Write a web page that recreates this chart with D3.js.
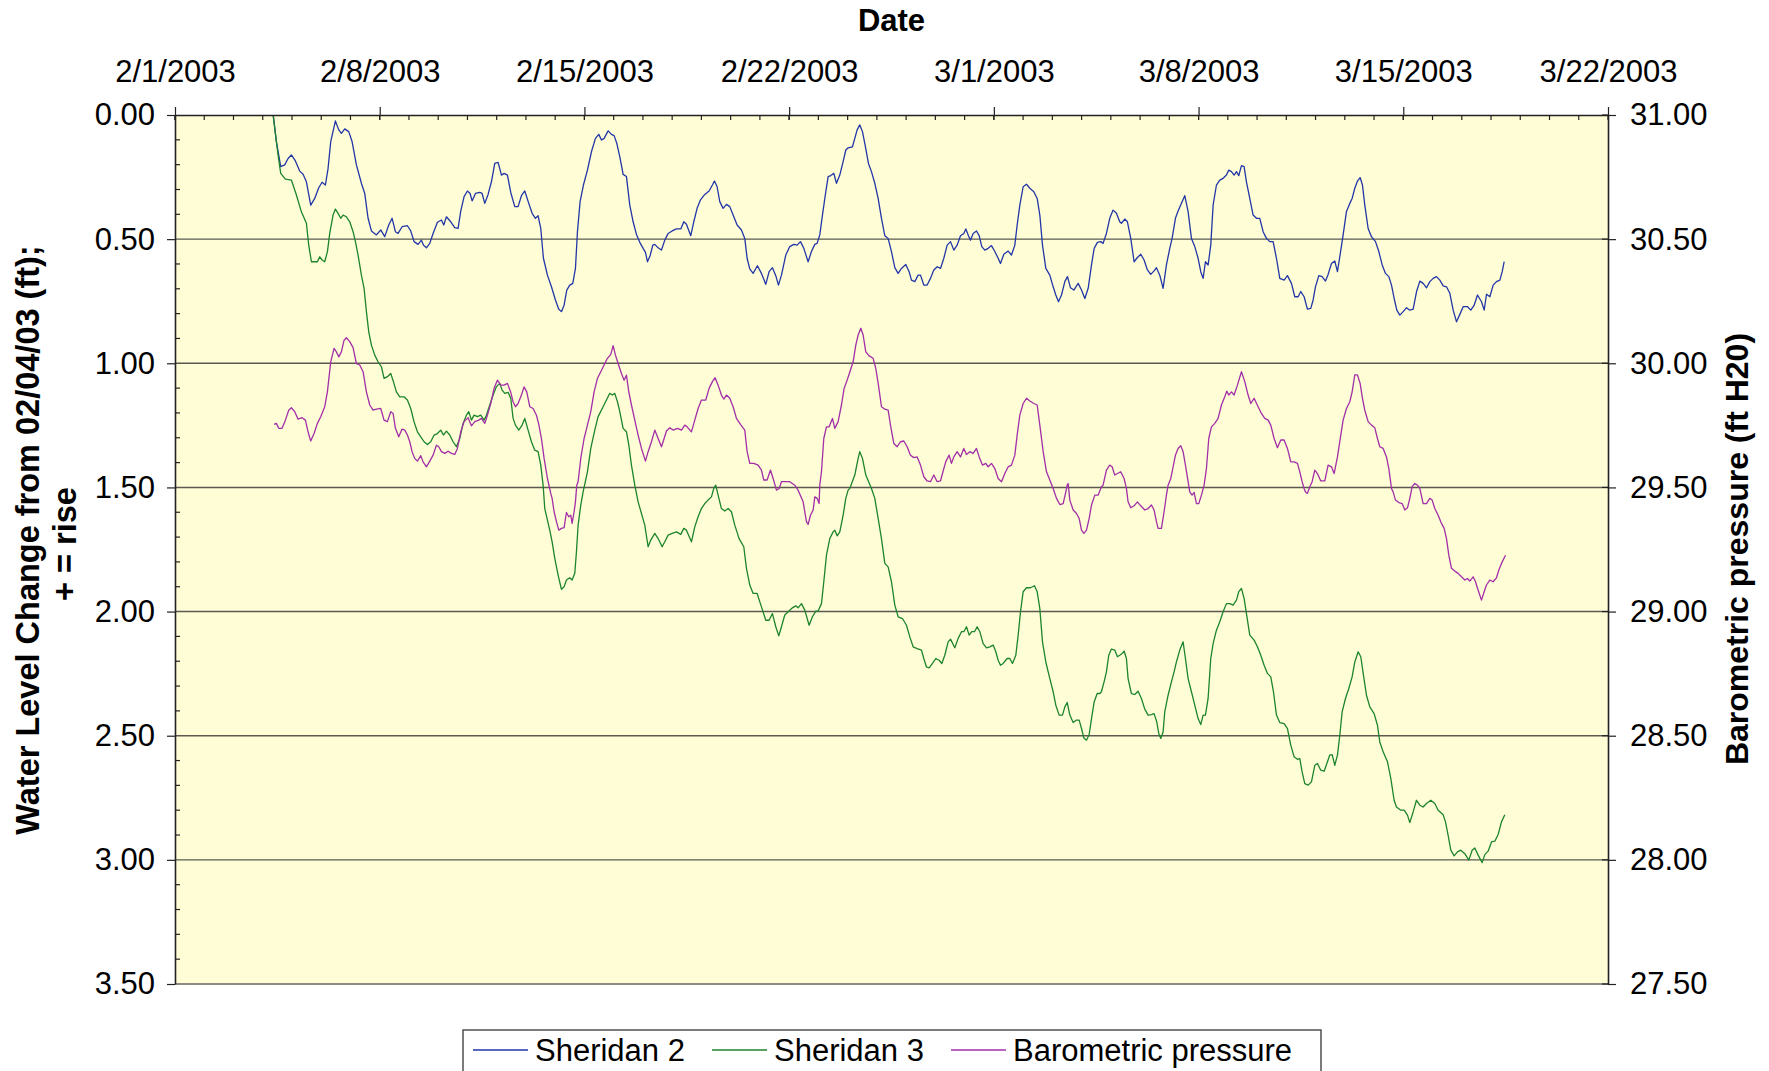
<!DOCTYPE html>
<html><head><meta charset="utf-8">
<script src="https://cdn.jsdelivr.net/npm/d3@7"></script>
<style>
body{margin:0;background:#fff;}
svg{display:block;font-family:"Liberation Sans",Arial,Helvetica,sans-serif;}
</style>
</head><body>
<svg id="chart" width="1769" height="1071"></svg>
<script>
// ---- Data (days since 2/1/2003 00:00) ----
const weekTicks = ["2003-02-01","2003-02-08","2003-02-15","2003-02-22","2003-03-01","2003-03-08","2003-03-15","2003-03-22"];
const leftTicks = [0,0.5,1,1.5,2,2.5,3,3.5];
const rightTicks = [31,30.5,30,29.5,29,28.5,28,27.5];
const seriesNames = ["Sheridan 2","Sheridan 3","Barometric pressure"];

const s2Day = [3.36,3.467,3.615,3.752,3.866,3.98,4.117,4.265,4.379,4.493,4.641,4.778,4.915,5.029,5.143,5.234,5.325,5.485,5.599,5.69,5.804,5.941,6.055,6.203,6.374,6.488,6.602,6.716,6.887,7.035,7.172,7.309,7.423,7.537,7.628,7.765,7.947,8.061,8.175,8.312,8.426,8.494,8.597,8.711,8.825,8.973,9.11,9.19,9.281,9.429,9.566,9.68,9.771,9.885,9.999,10.09,10.159,10.273,10.421,10.501,10.592,10.706,10.82,10.934,11.048,11.162,11.253,11.367,11.481,11.618,11.732,11.846,11.96,12.097,12.211,12.325,12.416,12.507,12.598,12.735,12.872,13.009,13.123,13.214,13.305,13.396,13.499,13.602,13.693,13.761,13.852,13.966,14.103,14.24,14.377,14.491,14.582,14.673,14.81,14.924,15.015,15.106,15.209,15.323,15.437,15.551,15.665,15.779,15.893,16.007,16.087,16.155,16.246,16.338,16.406,16.52,16.634,16.748,16.862,16.999,17.147,17.295,17.397,17.488,17.636,17.739,17.853,17.967,18.115,18.263,18.377,18.446,18.537,18.628,18.742,18.856,18.97,19.084,19.221,19.369,19.483,19.563,19.654,19.768,19.916,20.053,20.201,20.315,20.429,20.543,20.634,20.737,20.885,21.022,21.159,21.273,21.387,21.501,21.649,21.763,21.877,21.957,22.048,22.139,22.253,22.333,22.424,22.527,22.618,22.732,22.846,22.937,23.017,23.165,23.245,23.325,23.416,23.507,23.598,23.712,23.815,23.929,24.043,24.157,24.271,24.385,24.499,24.613,24.727,24.841,24.989,25.103,25.183,25.297,25.411,25.491,25.605,25.719,25.833,25.947,26.061,26.175,26.289,26.403,26.517,26.631,26.745,26.859,26.973,27.041,27.132,27.201,27.292,27.406,27.497,27.588,27.691,27.805,27.919,28.033,28.147,28.227,28.341,28.489,28.603,28.717,28.797,28.888,29.002,29.116,29.23,29.367,29.481,29.572,29.663,29.777,29.914,30.028,30.119,30.21,30.313,30.427,30.518,30.621,30.735,30.883,30.997,31.111,31.225,31.339,31.43,31.541,31.655,31.735,31.849,31.963,32.077,32.191,32.305,32.362,32.476,32.567,32.681,32.795,32.909,33.023,33.137,33.251,33.365,33.479,33.559,33.673,33.787,33.901,34.015,34.095,34.209,34.3,34.437,34.528,34.642,34.756,34.87,34.984,35.075,35.155,35.235,35.326,35.417,35.497,35.611,35.725,35.839,35.953,36.033,36.124,36.215,36.295,36.375,36.466,36.557,36.637,36.751,36.865,36.979,37.093,37.207,37.321,37.435,37.549,37.663,37.777,37.925,38.039,38.176,38.29,38.404,38.495,38.609,38.723,38.837,38.917,38.997,39.111,39.225,39.339,39.43,39.544,39.658,39.749,39.829,39.943,40.057,40.171,40.251,40.342,40.433,40.524,40.604,40.684,40.798,40.912,41.05,41.164,41.278,41.392,41.506,41.597,41.688,41.779,41.882,41.996,42.11,42.224,42.338,42.452,42.566,42.68,42.794,42.908,43.022,43.136,43.25,43.364,43.478,43.592,43.706,43.82,43.934,44.048,44.196,44.31,44.424,44.538,44.675,44.766,44.846,44.96,45.074,45.188,45.302,45.382,45.45];
const s2Val = [0,0.107,0.208,0.201,0.175,0.161,0.185,0.226,0.239,0.269,0.363,0.336,0.293,0.271,0.282,0.215,0.107,0.024,0.06,0.074,0.056,0.067,0.107,0.201,0.275,0.316,0.416,0.467,0.483,0.463,0.49,0.443,0.416,0.47,0.477,0.45,0.446,0.467,0.51,0.521,0.504,0.524,0.535,0.517,0.477,0.432,0.423,0.443,0.41,0.43,0.454,0.457,0.387,0.329,0.306,0.316,0.346,0.316,0.312,0.316,0.356,0.32,0.269,0.195,0.191,0.242,0.235,0.242,0.312,0.369,0.369,0.325,0.306,0.356,0.396,0.416,0.406,0.457,0.577,0.645,0.692,0.745,0.782,0.792,0.766,0.705,0.685,0.678,0.618,0.47,0.349,0.282,0.222,0.148,0.094,0.078,0.101,0.094,0.064,0.078,0.083,0.114,0.168,0.239,0.248,0.363,0.43,0.481,0.513,0.537,0.553,0.591,0.567,0.524,0.521,0.535,0.544,0.504,0.477,0.467,0.459,0.459,0.43,0.44,0.486,0.43,0.376,0.342,0.32,0.306,0.282,0.266,0.289,0.349,0.376,0.36,0.369,0.403,0.443,0.463,0.497,0.577,0.62,0.638,0.607,0.638,0.682,0.631,0.615,0.647,0.685,0.645,0.564,0.53,0.521,0.524,0.51,0.537,0.591,0.55,0.521,0.517,0.483,0.403,0.309,0.248,0.244,0.235,0.275,0.242,0.188,0.141,0.132,0.128,0.094,0.06,0.04,0.067,0.121,0.195,0.228,0.275,0.336,0.416,0.486,0.497,0.55,0.615,0.638,0.618,0.602,0.631,0.665,0.671,0.645,0.645,0.685,0.685,0.658,0.624,0.611,0.618,0.577,0.524,0.51,0.544,0.524,0.486,0.477,0.459,0.486,0.504,0.477,0.467,0.486,0.53,0.544,0.537,0.526,0.55,0.577,0.598,0.561,0.548,0.564,0.524,0.443,0.363,0.289,0.279,0.295,0.309,0.336,0.403,0.524,0.618,0.645,0.692,0.725,0.752,0.725,0.671,0.651,0.696,0.705,0.678,0.705,0.739,0.698,0.604,0.537,0.513,0.51,0.517,0.477,0.416,0.383,0.396,0.43,0.436,0.419,0.43,0.497,0.591,0.574,0.561,0.584,0.624,0.642,0.628,0.615,0.645,0.698,0.604,0.537,0.497,0.416,0.387,0.349,0.325,0.389,0.497,0.53,0.577,0.631,0.658,0.591,0.604,0.524,0.363,0.282,0.262,0.255,0.242,0.222,0.228,0.242,0.228,0.244,0.204,0.208,0.269,0.336,0.403,0.416,0.416,0.47,0.497,0.51,0.51,0.577,0.658,0.665,0.647,0.678,0.732,0.732,0.711,0.732,0.782,0.779,0.745,0.692,0.647,0.651,0.669,0.642,0.598,0.588,0.631,0.571,0.483,0.389,0.356,0.336,0.295,0.266,0.252,0.282,0.363,0.457,0.49,0.51,0.55,0.604,0.638,0.651,0.685,0.739,0.786,0.806,0.792,0.776,0.786,0.782,0.712,0.669,0.678,0.696,0.671,0.658,0.651,0.665,0.688,0.692,0.718,0.786,0.833,0.803,0.772,0.772,0.786,0.766,0.725,0.752,0.786,0.722,0.732,0.685,0.671,0.665,0.631,0.591,0.567];

const s3Day = [3.353,3.524,3.615,3.775,3.98,4.151,4.322,4.493,4.573,4.664,4.869,4.949,5.029,5.12,5.211,5.291,5.405,5.485,5.576,5.667,5.747,5.861,5.975,6.089,6.169,6.26,6.374,6.465,6.545,6.625,6.716,6.83,6.944,7.058,7.149,7.263,7.377,7.468,7.571,7.685,7.833,7.947,8.061,8.175,8.289,8.403,8.517,8.631,8.745,8.859,8.973,9.087,9.178,9.281,9.395,9.509,9.623,9.737,9.851,9.965,10.045,10.136,10.227,10.341,10.455,10.569,10.649,10.763,10.877,10.991,11.105,11.185,11.276,11.39,11.481,11.561,11.641,11.755,11.869,11.96,12.074,12.188,12.302,12.416,12.507,12.587,12.644,12.735,12.815,12.895,12.986,13.1,13.214,13.305,13.385,13.499,13.579,13.67,13.727,13.784,13.875,13.955,14.103,14.217,14.354,14.468,14.639,14.753,14.867,14.958,15.038,15.129,15.209,15.323,15.437,15.517,15.608,15.722,15.836,15.95,16.064,16.178,16.269,16.406,16.52,16.657,16.748,16.862,16.999,17.147,17.295,17.397,17.488,17.659,17.773,17.887,18.001,18.115,18.229,18.343,18.423,18.491,18.571,18.685,18.799,18.913,19.027,19.141,19.289,19.449,19.54,19.654,19.768,19.905,20.053,20.201,20.315,20.429,20.543,20.646,20.737,20.851,20.965,21.113,21.227,21.307,21.421,21.535,21.683,21.797,21.911,21.991,22.105,22.185,22.276,22.39,22.504,22.561,22.641,22.732,22.846,22.937,23.017,23.074,23.245,23.359,23.416,23.507,23.621,23.815,23.929,24.043,24.157,24.271,24.385,24.499,24.613,24.727,24.875,25.012,25.126,25.24,25.377,25.525,25.605,25.696,25.787,25.901,26.015,26.129,26.22,26.323,26.437,26.517,26.665,26.779,26.893,26.973,27.064,27.155,27.246,27.338,27.429,27.52,27.634,27.748,27.862,27.976,28.067,28.147,28.227,28.318,28.455,28.546,28.637,28.751,28.831,28.911,29.002,29.116,29.253,29.39,29.481,29.572,29.663,29.777,29.914,30.028,30.119,30.233,30.347,30.427,30.507,30.598,30.712,30.826,30.917,30.997,31.077,31.168,31.259,31.339,31.43,31.533,31.624,31.678,31.769,31.849,31.929,32.02,32.134,32.225,32.305,32.385,32.453,32.533,32.59,32.704,32.818,32.932,33.046,33.16,33.274,33.388,33.479,33.57,33.639,33.707,33.787,33.844,33.958,34.072,34.163,34.243,34.357,34.471,34.551,34.642,34.756,34.87,34.984,35.075,35.155,35.235,35.326,35.417,35.497,35.611,35.725,35.839,35.953,36.067,36.181,36.295,36.375,36.466,36.557,36.637,36.751,36.899,37.013,37.127,37.241,37.355,37.469,37.561,37.663,37.777,37.925,38.039,38.153,38.267,38.381,38.461,38.541,38.632,38.746,38.86,38.974,39.065,39.179,39.293,39.407,39.487,39.567,39.658,39.749,39.829,39.909,40.023,40.137,40.251,40.342,40.456,40.547,40.638,40.741,40.855,41.003,41.117,41.197,41.311,41.459,41.573,41.687,41.767,41.915,42.029,42.143,42.223,42.337,42.451,42.565,42.679,42.793,42.941,43.078,43.192,43.363,43.443,43.534,43.625,43.739,43.853,43.967,44.104,44.241,44.355,44.446,44.56,44.697,44.788,44.902,45.016,45.13,45.244,45.358,45.472];
const s3Val = [0,0.161,0.235,0.258,0.262,0.322,0.39,0.436,0.524,0.591,0.591,0.571,0.584,0.591,0.551,0.477,0.403,0.379,0.396,0.416,0.403,0.41,0.43,0.47,0.51,0.564,0.645,0.698,0.792,0.873,0.927,0.967,0.994,1.014,1.061,1.054,1.041,1.074,1.115,1.135,1.135,1.148,1.182,1.236,1.276,1.296,1.316,1.327,1.316,1.289,1.283,1.269,1.289,1.273,1.289,1.316,1.336,1.303,1.242,1.209,1.195,1.229,1.209,1.215,1.209,1.229,1.209,1.168,1.128,1.094,1.081,1.108,1.121,1.117,1.141,1.222,1.249,1.269,1.249,1.222,1.269,1.316,1.35,1.356,1.41,1.491,1.585,1.632,1.672,1.719,1.786,1.853,1.91,1.9,1.873,1.864,1.873,1.846,1.759,1.652,1.571,1.518,1.437,1.343,1.269,1.215,1.175,1.148,1.121,1.128,1.121,1.155,1.195,1.262,1.276,1.329,1.41,1.491,1.558,1.605,1.652,1.739,1.712,1.685,1.706,1.739,1.719,1.692,1.685,1.679,1.689,1.665,1.672,1.719,1.659,1.618,1.585,1.565,1.551,1.538,1.504,1.491,1.531,1.585,1.595,1.585,1.598,1.652,1.706,1.739,1.826,1.893,1.927,1.927,1.981,2.035,2.035,2.008,2.061,2.098,2.061,2.014,2.001,1.985,1.977,1.985,1.968,1.994,2.055,2.021,1.998,1.998,1.968,1.88,1.773,1.706,1.679,1.672,1.695,1.679,1.612,1.544,1.511,1.504,1.45,1.383,1.356,1.383,1.45,1.504,1.544,1.625,1.706,1.806,1.82,1.88,1.974,2.021,2.028,2.055,2.102,2.142,2.149,2.155,2.189,2.223,2.227,2.209,2.189,2.196,2.209,2.176,2.122,2.111,2.146,2.108,2.081,2.081,2.061,2.095,2.081,2.081,2.061,2.081,2.129,2.146,2.142,2.135,2.162,2.196,2.216,2.209,2.189,2.189,2.209,2.176,2.095,2.001,1.92,1.904,1.904,1.896,1.92,1.988,2.122,2.203,2.27,2.323,2.377,2.417,2.417,2.384,2.366,2.417,2.447,2.437,2.437,2.471,2.509,2.518,2.495,2.431,2.364,2.33,2.33,2.323,2.283,2.243,2.176,2.151,2.155,2.182,2.176,2.169,2.159,2.189,2.27,2.33,2.334,2.321,2.35,2.393,2.417,2.415,2.411,2.444,2.491,2.511,2.485,2.404,2.337,2.283,2.243,2.203,2.155,2.122,2.189,2.27,2.323,2.377,2.431,2.455,2.417,2.417,2.35,2.189,2.129,2.075,2.041,2.001,1.968,1.968,1.974,1.954,1.92,1.907,1.947,2.008,2.095,2.115,2.142,2.176,2.216,2.249,2.263,2.323,2.417,2.447,2.451,2.471,2.538,2.585,2.595,2.592,2.646,2.693,2.699,2.686,2.619,2.612,2.639,2.643,2.605,2.578,2.576,2.619,2.578,2.498,2.404,2.35,2.31,2.263,2.203,2.162,2.182,2.256,2.337,2.384,2.411,2.458,2.525,2.565,2.605,2.672,2.76,2.787,2.8,2.8,2.82,2.85,2.807,2.76,2.78,2.787,2.773,2.76,2.773,2.8,2.818,2.847,2.901,2.961,2.984,2.968,2.961,2.975,3.001,2.961,2.952,2.981,3.011,2.979,2.965,2.928,2.925,2.898,2.847,2.818];

const baroDay = [3.387,3.467,3.547,3.661,3.775,3.889,3.98,4.094,4.208,4.345,4.459,4.55,4.641,4.755,4.869,4.983,5.12,5.211,5.325,5.439,5.519,5.599,5.69,5.781,5.861,5.975,6.089,6.203,6.317,6.431,6.545,6.659,6.773,6.887,7.035,7.149,7.263,7.377,7.457,7.537,7.651,7.765,7.856,7.947,8.027,8.107,8.198,8.289,8.403,8.483,8.597,8.711,8.825,8.939,9.019,9.11,9.224,9.338,9.452,9.566,9.657,9.771,9.885,10.022,10.136,10.25,10.387,10.478,10.592,10.683,10.797,10.911,11.025,11.139,11.253,11.367,11.481,11.561,11.641,11.732,11.846,11.937,12.028,12.131,12.245,12.359,12.439,12.53,12.621,12.735,12.849,12.895,12.963,13.043,13.123,13.214,13.305,13.385,13.465,13.533,13.579,13.647,13.693,13.738,13.784,13.875,13.989,14.103,14.217,14.331,14.445,14.559,14.673,14.787,14.901,14.981,15.061,15.152,15.266,15.357,15.437,15.517,15.608,15.722,15.836,15.95,16.087,16.178,16.292,16.406,16.52,16.634,16.725,16.805,16.919,17.033,17.181,17.318,17.432,17.511,17.659,17.773,17.887,18.001,18.149,18.263,18.377,18.468,18.571,18.685,18.765,18.856,18.97,19.084,19.198,19.335,19.483,19.563,19.654,19.791,19.939,20.053,20.133,20.247,20.361,20.452,20.566,20.657,20.737,20.851,21.022,21.193,21.307,21.478,21.592,21.649,21.729,21.82,21.877,21.957,22.025,22.048,22.105,22.185,22.276,22.367,22.481,22.561,22.675,22.789,22.88,22.983,23.097,23.188,23.279,23.359,23.45,23.53,23.621,23.735,23.872,23.963,24.054,24.157,24.271,24.385,24.465,24.579,24.693,24.807,24.921,25.035,25.149,25.263,25.377,25.491,25.605,25.719,25.833,25.947,26.061,26.175,26.266,26.357,26.471,26.551,26.631,26.745,26.859,26.973,27.064,27.178,27.292,27.406,27.497,27.611,27.725,27.805,27.919,28.033,28.147,28.261,28.375,28.489,28.603,28.717,28.797,28.888,29.002,29.116,29.23,29.367,29.481,29.572,29.686,29.8,29.914,30.028,30.142,30.256,30.37,30.461,30.507,30.541,30.598,30.712,30.826,30.917,30.997,31.077,31.168,31.259,31.339,31.453,31.567,31.678,31.735,31.849,31.963,32.043,32.134,32.225,32.339,32.453,32.533,32.59,32.681,32.795,32.909,33.023,33.16,33.274,33.388,33.479,33.559,33.616,33.73,33.821,33.901,33.958,34.05,34.129,34.209,34.3,34.391,34.471,34.551,34.642,34.699,34.779,34.847,34.927,35.007,35.098,35.189,35.269,35.349,35.44,35.554,35.668,35.782,35.896,35.964,36.033,36.124,36.215,36.329,36.466,36.58,36.694,36.785,36.899,37.036,37.15,37.264,37.378,37.469,37.583,37.697,37.811,37.925,38.039,38.153,38.267,38.381,38.461,38.541,38.609,38.655,38.723,38.803,38.883,38.974,39.065,39.179,39.316,39.43,39.544,39.635,39.749,39.863,39.943,40.057,40.171,40.251,40.342,40.433,40.524,40.604,40.684,40.798,40.912,41.026,41.117,41.197,41.311,41.425,41.506,41.597,41.653,41.733,41.847,41.961,42.052,42.143,42.223,42.303,42.394,42.485,42.565,42.679,42.793,42.907,42.987,43.078,43.192,43.306,43.397,43.477,43.557,43.648,43.762,43.876,43.99,44.104,44.195,44.275,44.389,44.469,44.56,44.674,44.765,44.845,44.959,45.073,45.187,45.267,45.358,45.495];
const baroVal = [29.754,29.758,29.738,29.738,29.771,29.811,29.821,29.805,29.775,29.781,29.771,29.724,29.687,29.717,29.758,29.785,29.825,29.885,30.006,30.06,30.046,30.026,30.046,30.093,30.103,30.087,30.063,29.999,29.993,29.966,29.885,29.832,29.811,29.815,29.818,29.771,29.765,29.805,29.798,29.738,29.704,29.735,29.731,29.711,29.684,29.644,29.617,29.606,29.628,29.603,29.583,29.606,29.63,29.67,29.664,29.644,29.637,29.646,29.637,29.633,29.657,29.724,29.765,29.781,29.748,29.765,29.771,29.778,29.758,29.791,29.838,29.899,29.932,29.912,29.912,29.919,29.883,29.845,29.825,29.838,29.872,29.905,29.885,29.825,29.818,29.791,29.754,29.697,29.617,29.536,29.476,29.456,29.402,29.362,29.328,29.335,29.338,29.399,29.382,29.388,29.355,29.402,29.442,29.509,29.523,29.617,29.697,29.751,29.805,29.885,29.939,29.966,29.993,30.02,30.036,30.071,30.033,29.999,29.959,29.932,29.952,29.885,29.832,29.771,29.711,29.657,29.606,29.644,29.684,29.731,29.697,29.664,29.697,29.727,29.74,29.731,29.738,29.731,29.751,29.744,29.724,29.771,29.818,29.852,29.852,29.899,29.926,29.942,29.912,29.872,29.856,29.872,29.859,29.825,29.778,29.754,29.731,29.644,29.597,29.597,29.59,29.57,29.53,29.53,29.57,29.536,29.489,29.496,29.523,29.523,29.523,29.509,29.489,29.442,29.362,29.351,29.388,29.409,29.462,29.456,29.435,29.509,29.563,29.697,29.744,29.744,29.778,29.738,29.765,29.832,29.899,29.932,29.973,30.006,30.073,30.114,30.141,30.114,30.046,30.03,30.02,29.979,29.912,29.825,29.815,29.811,29.751,29.677,29.664,29.684,29.687,29.664,29.63,29.62,29.623,29.59,29.543,29.526,29.523,29.55,29.523,29.526,29.566,29.604,29.63,29.597,29.623,29.644,29.623,29.657,29.633,29.644,29.637,29.657,29.623,29.59,29.597,29.583,29.597,29.576,29.536,29.523,29.556,29.583,29.59,29.63,29.711,29.791,29.838,29.859,29.848,29.838,29.832,29.751,29.644,29.563,29.53,29.496,29.456,29.431,29.435,29.482,29.509,29.516,29.449,29.409,29.395,29.375,29.328,29.315,29.328,29.375,29.429,29.469,29.469,29.503,29.509,29.57,29.59,29.583,29.55,29.556,29.563,29.536,29.496,29.442,29.418,29.426,29.442,29.426,29.409,29.415,29.429,29.409,29.362,29.335,29.335,29.402,29.469,29.509,29.536,29.583,29.63,29.657,29.668,29.644,29.59,29.523,29.482,29.469,29.48,29.435,29.435,29.469,29.509,29.576,29.697,29.744,29.758,29.778,29.832,29.865,29.888,29.872,29.885,29.872,29.912,29.966,29.926,29.872,29.838,29.859,29.825,29.798,29.778,29.771,29.751,29.697,29.66,29.691,29.691,29.657,29.603,29.603,29.597,29.563,29.523,29.496,29.482,29.476,29.503,29.523,29.57,29.556,29.526,29.526,29.59,29.583,29.556,29.623,29.711,29.771,29.818,29.845,29.885,29.953,29.953,29.919,29.859,29.811,29.765,29.751,29.74,29.697,29.664,29.657,29.623,29.576,29.496,29.482,29.449,29.439,29.435,29.409,29.418,29.456,29.503,29.516,29.509,29.496,29.435,29.435,29.456,29.449,29.415,29.388,29.355,29.335,29.294,29.227,29.174,29.163,29.154,29.14,29.127,29.133,29.123,29.14,29.12,29.086,29.046,29.08,29.107,29.127,29.12,29.136,29.167,29.194,29.227];

const colors = ["#2236A8","#1C842C","#A22EA8"];

// ---- Layout ----
const svg = d3.select("#chart");
const L = 175, R = 1608, T = 115, B = 984;
const t0 = Date.UTC(2003,1,1);
const toDate = d => new Date(t0 + d*864e5);
const parse = d3.utcParse("%Y-%m-%d");
const x = d3.scaleUtc().domain([parse(weekTicks[0]), parse(weekTicks[weekTicks.length-1])]).range([L,R]);
const yL = d3.scaleLinear().domain([0,3.5]).range([T,B]);
const yR = d3.scaleLinear().domain([31,27.5]).range([T,B]);

// plot area
svg.append("rect").attr("x",L).attr("y",T).attr("width",R-L).attr("height",B-T).attr("fill","#FFFDD6");

// gridlines
svg.append("g").selectAll("line").data(leftTicks.filter(v=>v>0 && v<3.5)).join("line")
  .attr("x1",L).attr("x2",R).attr("y1",d=>yL(d)).attr("y2",d=>yL(d))
  .attr("stroke","#5a5a50").attr("stroke-width",1.4);

// bottom edge
svg.append("line").attr("x1",L).attr("x2",R).attr("y1",B).attr("y2",B).attr("stroke","#8c8c84").attr("stroke-width",2);

// minor ticks
const days = d3.utcDay.range(x.domain()[0], x.domain()[1]);
svg.append("g").selectAll("line").data(days).join("line")
  .attr("x1",d=>x(d)).attr("x2",d=>x(d)).attr("y1",T).attr("y2",T+5).attr("stroke","#222").attr("stroke-width",1.2);
const minorV = d3.range(1,35).map(i=>i/10).filter(v=>Math.abs(v*2-Math.round(v*2))>1e-6);
svg.append("g").selectAll("line").data(minorV).join("line")
  .attr("x1",L).attr("x2",L+5).attr("y1",d=>yL(d)).attr("y2",d=>yL(d)).attr("stroke","#222").attr("stroke-width",1.2);
svg.append("g").selectAll("line").data(weekTicks.map(parse)).join("line")
  .attr("x1",d=>x(d)).attr("x2",d=>x(d)).attr("y1",T).attr("y2",T+5).attr("stroke","#222").attr("stroke-width",1.2);
svg.append("g").selectAll("line").data(rightTicks).join("line")
  .attr("x1",R-6).attr("x2",R).attr("y1",d=>yR(d)).attr("y2",d=>yR(d)).attr("stroke","#222").attr("stroke-width",1.2);

// series
const line = (yS) => d3.line().x(d=>x(toDate(d[0]))).y(d=>yS(d[1]));
const series = [
  {days:s2Day, vals:s2Val, y:yL},
  {days:s3Day, vals:s3Val, y:yL},
  {days:baroDay, vals:baroVal, y:yR}
];
series.forEach((s,i)=>{
  const pts = s.days.map((d,j)=>[d, s.vals[j]]);
  svg.append("path").attr("d", line(s.y)(pts)).attr("fill","none")
    .attr("stroke",colors[i]).attr("stroke-width",1.3).attr("stroke-linejoin","round");
});

// axes
const fmtDate = d3.utcFormat("%-m/%-d/%Y");
const gTop = svg.append("g").attr("transform",`translate(0,${T})`)
  .call(d3.axisTop(x).tickValues(weekTicks.map(parse)).tickFormat(fmtDate).tickSizeInner(8).tickSizeOuter(0).tickPadding(25));
const gLeft = svg.append("g").attr("transform",`translate(${L},0)`)
  .call(d3.axisLeft(yL).tickValues(leftTicks).tickFormat(d3.format(".2f")).tickSizeInner(8).tickSizeOuter(0).tickPadding(12));
const gRight = svg.append("g").attr("transform",`translate(${R},0)`)
  .call(d3.axisRight(yR).tickValues(rightTicks).tickFormat(d3.format(".2f")).tickSizeInner(8).tickSizeOuter(0).tickPadding(14));
[gTop,gLeft,gRight].forEach(g=>{
  g.select(".domain").attr("stroke","#222").attr("stroke-width",1.6);
  g.selectAll(".tick line").attr("stroke","#222").attr("stroke-width",1.2);
  g.selectAll("text").attr("font-size",31).attr("fill","#000").attr("font-family","Liberation Sans, Arial, sans-serif");
});

// titles
svg.append("text").attr("x",(L+R)/2).attr("y",31).attr("text-anchor","middle")
  .attr("font-size",31).attr("font-weight","bold").text("Date");
svg.append("text").attr("transform",`translate(28,540) rotate(-90)`).attr("text-anchor","middle")
  .attr("dy","0.35em").attr("font-size",32.5).attr("font-weight","bold").text("Water Level Change from 02/04/03 (ft);");
svg.append("text").attr("transform",`translate(65,544) rotate(-90)`).attr("text-anchor","middle")
  .attr("dy","0.35em").attr("font-size",32.5).attr("font-weight","bold").text("+ = rise");
svg.append("text").attr("transform",`translate(1737,549) rotate(-90)`).attr("text-anchor","middle")
  .attr("dy","0.35em").attr("font-size",32).attr("font-weight","bold").text("Barometric pressure (ft H20)");

// legend
svg.append("rect").attr("x",463).attr("y",1030).attr("width",858).attr("height",60)
  .attr("fill","#fff").attr("stroke","#444").attr("stroke-width",1.4);
const legX = [473,712,951];
seriesNames.forEach((n,i)=>{
  svg.append("line").attr("x1",legX[i]).attr("x2",legX[i]+55).attr("y1",1050).attr("y2",1050)
    .attr("stroke",colors[i]).attr("stroke-width",1.3);
  svg.append("text").attr("x",legX[i]+62).attr("y",1061).attr("font-size",31).text(n);
});
</script>
</body></html>
